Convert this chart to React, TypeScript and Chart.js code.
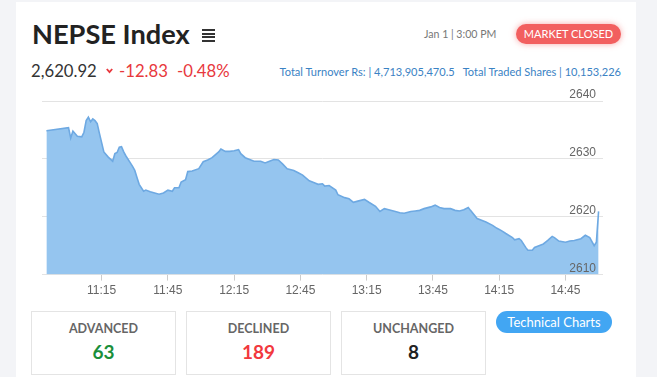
import React, { useEffect, useRef } from "react";
import { Chart, registerables } from "chart.js";

Chart.register(...registerables);

// ---- data ----
const times = [
  "10:50", "11:00", "11:01", "11:02", "11:04", "11:06", "11:07", "11:08", "11:09", "11:10",
  "11:11", "11:12", "11:13", "11:14", "11:15", "11:16", "11:18", "11:20", "11:21", "11:22",
  "11:23", "11:24", "11:25", "11:26", "11:28", "11:29", "11:30", "11:31", "11:32", "11:34",
  "11:35", "11:37", "11:39", "11:41", "11:43", "11:45", "11:47", "11:48", "11:50", "11:51",
  "11:53", "11:54", "11:56", "11:59", "12:01", "12:03", "12:05", "12:08", "12:09", "12:11",
  "12:13", "12:15", "12:17", "12:18", "12:20", "12:22", "12:24", "12:27", "12:29", "12:31",
  "12:33", "12:35", "12:37", "12:39", "12:42", "12:44", "12:46", "12:49", "12:51", "12:53",
  "12:55", "12:56", "12:58", "13:01", "13:02", "13:05", "13:07", "13:09", "13:11", "13:14",
  "13:16", "13:19", "13:21", "13:23", "13:25", "13:28", "13:30", "13:32", "13:35", "13:37",
  "13:39", "13:41", "13:44", "13:46", "13:48", "13:50", "13:53", "13:55", "13:57", "13:59",
  "14:01", "14:02", "14:05", "14:07", "14:09", "14:12", "14:14", "14:16", "14:18", "14:21",
  "14:22", "14:24", "14:25", "14:27", "14:28", "14:30", "14:31", "14:33", "14:35", "14:37",
  "14:39", "14:40", "14:42", "14:45", "14:47", "14:49", "14:52", "14:54", "14:56", "14:58",
  "14:59", "15:00",
];

const indexValues = [
  2634.85, 2635.4, 2633.6, 2634.8, 2633.9, 2633.8, 2634.6, 2636.6, 2637.2, 2636.4,
  2636.9, 2636.6, 2636.1, 2634.4, 2632.8, 2631.2, 2630.3, 2629.6, 2630.9, 2631.1,
  2632.0, 2632.1, 2631.2, 2630.5, 2629.3, 2628.7, 2628.0, 2626.8, 2625.6, 2624.4,
  2624.6, 2624.3, 2624.1, 2623.9, 2624.1, 2624.6, 2624.4, 2625.0, 2625.0, 2626.0,
  2626.4, 2627.8, 2627.9, 2628.3, 2629.5, 2629.8, 2630.2, 2631.2, 2631.7, 2631.3,
  2631.3, 2631.4, 2631.6, 2630.9, 2630.2, 2629.9, 2629.6, 2629.6, 2629.3, 2629.6,
  2629.9, 2629.8, 2629.1, 2628.3, 2628.0, 2627.6, 2627.2, 2626.2, 2625.9, 2625.6,
  2625.7, 2625.3, 2625.4, 2624.6, 2623.8, 2623.3, 2623.1, 2622.5, 2622.7, 2623.0,
  2622.5, 2621.8, 2620.9, 2621.4, 2621.2, 2620.9, 2620.7, 2620.6, 2620.9, 2621.0,
  2621.1, 2621.4, 2621.7, 2622.0, 2621.6, 2621.4, 2621.4, 2621.1, 2621.0, 2621.2,
  2621.6, 2621.1, 2619.7, 2619.4, 2619.1, 2618.5, 2618.0, 2617.6, 2617.1, 2616.4,
  2616.0, 2616.2, 2615.9, 2614.7, 2614.2, 2614.2, 2614.7, 2615.0, 2615.3, 2615.9,
  2616.6, 2616.4, 2615.8, 2615.6, 2615.8, 2615.9, 2616.2, 2616.8, 2616.4, 2615.0,
  2615.6, 2620.92,
];

const xTickLabels = ["11:15", "11:45", "12:15", "12:45", "13:15", "13:45", "14:15", "14:45"];
const yTickValues = [2610, 2620, 2630, 2640];
const xRange = ["10:48", "15:02"];

const stats = [
  { label: "ADVANCED", value: "63", color: "#1a8f3a" },
  { label: "DECLINED", value: "189", color: "#f2383d" },
  { label: "UNCHANGED", value: "8", color: "#222222" },
];

const toMin = (t: string) => {
  const [h, m] = t.split(":").map(Number);
  return h * 60 + m;
};
const fmtMin = (v: number) => {
  const h = Math.floor(v / 60);
  const m = Math.round(v - h * 60);
  return `${h}:${m < 10 ? "0" + m : m}`;
};

function NepseChart() {
  const ref = useRef<HTMLCanvasElement | null>(null);
  useEffect(() => {
    if (!ref.current) return;
    const chart = new Chart(ref.current, {
      type: "line",
      data: {
        datasets: [
          {
            data: times.map((t, i) => ({ x: toMin(t), y: indexValues[i] })),
            borderColor: "#6ea9e2",
            backgroundColor: "#95c5ef",
            borderWidth: 1.6,
            fill: "start",
            pointRadius: 0,
            tension: 0,
          },
        ],
      },
      options: {
        animation: false,
        responsive: true,
        maintainAspectRatio: false,
        layout: { padding: { top: 14, right: 12, left: 0, bottom: 0 } },
        plugins: { legend: { display: false }, tooltip: { enabled: false } },
        scales: {
          x: {
            type: "linear",
            min: toMin(xRange[0]),
            max: toMin(xRange[1]),
            afterBuildTicks: (axis: any) => {
              axis.ticks = xTickLabels.map((l) => ({ value: toMin(l) }));
            },
            ticks: {
              callback: (v: any) => fmtMin(Number(v)),
              color: "#666",
              font: { size: 12 },
              padding: 3,
              maxRotation: 0,
              autoSkip: false,
            },
            grid: {
              drawOnChartArea: false,
              drawTicks: true,
              tickLength: 6,
              tickColor: "#cccccc",
            },
            border: { display: false },
          },
          y: {
            position: "right",
            min: yTickValues[0],
            max: yTickValues[yTickValues.length - 1],
            afterBuildTicks: (axis: any) => {
              axis.ticks = yTickValues.map((v) => ({ value: v }));
            },
            afterFit: (axis: any) => {
              axis.width = 0;
            },
            ticks: {
              mirror: true,
              padding: -7,
              labelOffset: -6,
              autoSkip: false,
              z: 1,
              callback: (v: any) => String(v),
              color: "#666",
              font: { size: 12 },
            },
            grid: { color: "#e3e3e3", drawTicks: false, lineWidth: 1 },
            border: { display: false },
          },
        },
      },
    });
    return () => chart.destroy();
  }, []);
  return <canvas ref={ref} />;
}

export default function App() {
  const abs = (s: React.CSSProperties): React.CSSProperties => ({ position: "absolute", ...s });
  const font = "Lato, 'Noto Sans', sans-serif";
  return (
    <div style={{ position: "fixed", inset: 0, background: "#f3f4f7", overflow: "hidden", fontFamily: font }}>
      <div style={abs({ left: 16, top: 2, width: 620, height: 420, background: "#fff" })} />
      <div style={abs({ left: 32, top: 20, fontSize: 27.2, lineHeight: "27px", fontWeight: 700, color: "#222", whiteSpace: "nowrap" })}>
        NEPSE Index
      </div>
      {[29, 32.5, 36, 39.5].map((t) => (
        <div key={t} style={abs({ left: 202, top: t, width: 13, height: 2, background: "#333" })} />
      ))}
      <div style={abs({ left: 31, top: 63, fontSize: 16.7, lineHeight: "16.7px", color: "#333", whiteSpace: "nowrap" })}>
        2,620.92
      </div>
      <svg style={abs({ left: 106, top: 68 })} width="7" height="6" viewBox="0 0 7 6">
        <polyline points="0.8,1 3.5,4.2 6.2,1" fill="none" stroke="#e8383d" strokeWidth="1.8" />
      </svg>
      <div style={abs({ left: 119, top: 63, fontSize: 16.7, lineHeight: "16.7px", color: "#e8383d", whiteSpace: "nowrap" })}>
        -12.83
      </div>
      <div style={abs({ left: 177, top: 63, fontSize: 16.7, lineHeight: "16.7px", color: "#e8383d", whiteSpace: "nowrap" })}>
        -0.48%
      </div>
      <div style={abs({ left: 424, top: 28.5, fontSize: 10.6, lineHeight: "11px", color: "#777", whiteSpace: "nowrap" })}>
        Jan 1 | 3:00 PM
      </div>
      <div
        style={abs({
          left: 516, top: 24, width: 105, height: 20, borderRadius: 10, background: "#f25f5f",
          boxShadow: "0 0 6px rgba(242,95,95,0.55)", color: "#fff", fontSize: 11, lineHeight: "20px",
          textAlign: "center", whiteSpace: "nowrap",
        })}
      >
        MARKET CLOSED
      </div>
      <div style={abs({ right: 36, top: 65.5, fontSize: 11.05, lineHeight: "12px", color: "#3a82c4", whiteSpace: "nowrap" })}>
        <span>Total Turnover Rs: | 4,713,905,470.5</span>
        <span style={{ marginLeft: 8 }}>Total Traded Shares | 10,153,226</span>
      </div>
      <div style={abs({ left: 42, top: 87, width: 573, height: 214 })}>
        <NepseChart />
      </div>
      {stats.map((s, i) => (
        <div
          key={s.label}
          style={abs({
            left: 31 + i * 155, top: 311, width: 143, height: 62, border: "1px solid #e4e4e4",
            background: "#fff", textAlign: "center",
          })}
        >
          <div style={{ marginTop: 10, fontSize: 12.5, lineHeight: "14px", fontWeight: 700, color: "#666" }}>{s.label}</div>
          <div style={{ marginTop: 6, fontSize: 19, lineHeight: "20px", fontWeight: 700, color: s.color }}>{s.value}</div>
        </div>
      ))}
      <div
        style={abs({
          left: 496, top: 311, width: 116, height: 22, borderRadius: 11, background: "#42a6f3",
          color: "#fff", fontSize: 13, lineHeight: "22px", textAlign: "center", whiteSpace: "nowrap",
        })}
      >
        Technical Charts
      </div>
    </div>
  );
}
